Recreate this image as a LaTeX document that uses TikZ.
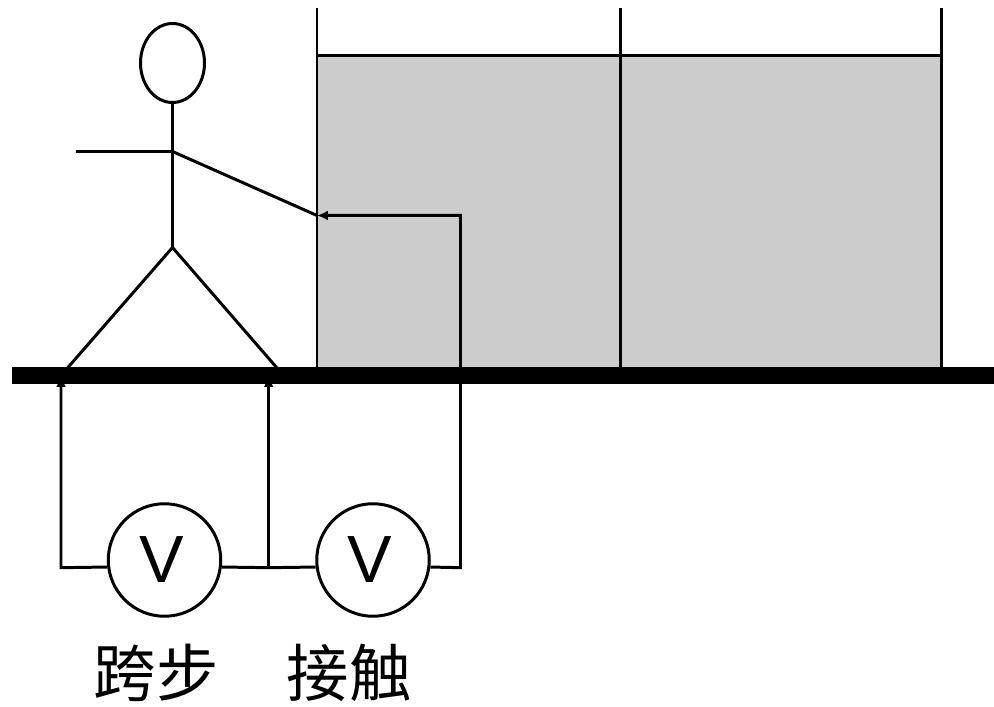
\documentclass[tikz,border=0pt]{standalone}
\usepackage{fontspec}
\setmainfont{Liberation Sans}
\newfontfamily\cjk{Noto Sans CJK SC}
\usepackage{tikz}
\usetikzlibrary{arrows.meta,shapes.geometric}
\definecolor{wallgray}{HTML}{CCCCCC}
\tikzset{
  wire/.style={black,line width=1.7pt,line join=miter},
  tip/.style={wire,-{Latex[length=0.22cm,width=0.2cm]}},
  meter/.style={circle,draw,fill=white,line width=1.7pt,minimum size=2.25cm,font=\fontsize{38}{38}\selectfont},
  caption/.style={font=\cjk\fontsize{35.5}{36}\selectfont}
}

\begin{document}
\begin{tikzpicture}[scale=0.2]
\tikzstyle{every node}+=[inner sep=0pt]
\useasboundingbox (0,0) rectangle (99.4,-70.7);
\fill [wallgray] (31.7,-5.55) rectangle (94.1,-36.7);
\draw [wire] (31.7,-0.8) -- (31.7,-36.7);
\draw [wire] (62.05,-0.8) -- (62.05,-36.7);
\draw [wire] (94.1,-0.8) -- (94.1,-36.7);
\draw [wire] (31.7,-5.55) -- (94.1,-5.55);
\draw [black,line width=9.6pt] (1.2,-37.55) -- (99.4,-37.55);
\node (head) [ellipse,draw,line width=1.7pt,minimum width=1.28cm,minimum height=1.58cm] at (17.25,-6.3) {};
\coordinate (neck) at (17.25,-15.15);
\coordinate (hip) at (17.25,-24.75);
\coordinate (lefthand) at (7.6,-15.15);
\coordinate (hand) at (31.7,-21.55);
\coordinate (footl) at (6.4,-37.2);
\coordinate (footr) at (28.05,-37.2);
\draw [wire] (head) -- (hip);
\draw [wire] (lefthand) -- (neck) -- (hand);
\draw [wire] (footl) -- (hip) -- (footr);
\node (vstep) [meter] at (16.45,-56) {V\kern3.2pt};
\node (vtouch) [meter] at (37.3,-56) {V\kern3.2pt};
\node (lstep) [caption] at (15.6,-67.3) {跨步};
\node (ltouch) [caption] at (34.9,-67.3) {接触};
\coordinate (wirel) at (6.1,-56.77);
\coordinate (wirem) at (26.87,-56.77);
\coordinate (wirer) at (46.05,-56.77);
\coordinate (bend) at (46.05,-21.55);
\coordinate (gndl) at (6.1,-37.6);
\coordinate (gndm) at (26.87,-37.6);
\draw [tip] (vstep.187.7) -- (wirel) -- (gndl);
\draw [wire] (vstep.-7.7) -- (wirem) -- (vtouch.187.7);
\draw [tip] (wirem) -- (gndm);
\draw [tip] (vtouch.-7.7) -- (wirer) -- (bend) -- (hand);
\end{tikzpicture}
\end{document}
